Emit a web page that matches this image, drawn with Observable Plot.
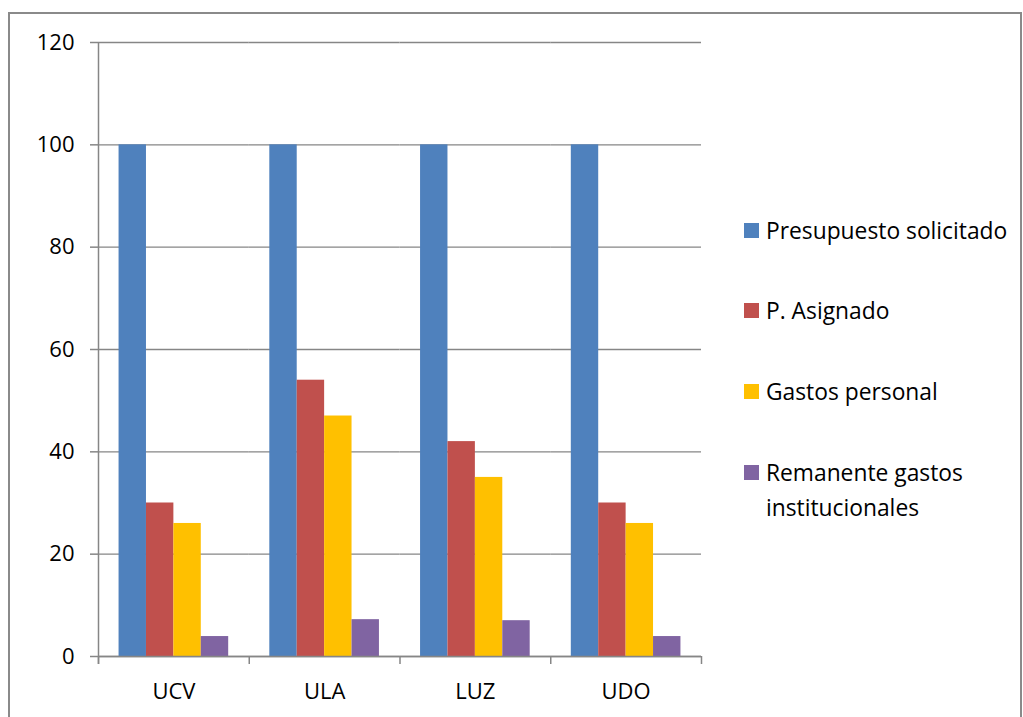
<!DOCTYPE html>
<html>
<head>
<meta charset="utf-8">
<script src="https://cdn.jsdelivr.net/npm/d3@7"></script>
<script src="https://cdn.jsdelivr.net/npm/@observablehq/plot@0.6"></script>
<style>
  html, body { margin: 0; padding: 0; background: #fff; overflow: hidden; }
  #wrap { position: relative; width: 1023px; height: 717px; font-family: "Open Sans", sans-serif; }
  #border { position: absolute; left: 8px; top: 12px; width: 1014px; height: 760px; border: 2px solid #8a8a8a; box-sizing: border-box; pointer-events: none; }
  #chart { position: absolute; left: 0; top: 0; }
  .legend { position: absolute; left: 744px; font-size: 22.8px; color: #000; line-height: 35px; }
  .item { position: absolute; left: 0; white-space: nowrap; display: flex; align-items: flex-start; }
  .sw { width: 15px; height: 15px; margin-top: 10px; margin-right: 7px; flex: none; }
</style>
</head>
<body>
<div id="wrap">
  <div id="chart"></div>
  <div id="border"></div>
  <div class="legend" id="legend"></div>
</div>
<script>
const categories = ["UCV", "ULA", "LUZ", "UDO"];
const series = ["Presupuesto solicitado", "P. Asignado", "Gastos personal", "Remanente gastos institucionales"];
const legendLabels = [["Presupuesto solicitado"], ["P. Asignado"], ["Gastos personal"], ["Remanente gastos", "institucionales"]];
const solicitado = [100, 100, 100, 100];
const asignado = [30, 54, 42, 30];
const gastosPersonal = [26, 47, 35, 26];
const remanente = [3.9, 7.2, 7.0, 3.9];
const colors = ["#4F81BD", "#C0504D", "#FFC000", "#8064A2"];
const yTicks = [0, 20, 40, 60, 80, 100, 120];
const legendCenters = [230, 310, 391, 472];

const seriesValues = [solicitado, asignado, gastosPersonal, remanente];
const data = [];
categories.forEach((c, i) => {
  series.forEach((s, j) => data.push({uni: c, series: s, value: seriesValues[j][i]}));
});

const W = 1023, H = 717, ML = 98, MR = 322, MT = 42, MB = 61;
const bw = (W - ML - MR) / categories.length;
const grid = "#868686";
const lastCat = [categories[categories.length - 1]];
const firstCat = [categories[0]];

const chart = Plot.plot({
  width: W, height: H,
  marginLeft: ML, marginRight: MR, marginTop: MT, marginBottom: MB,
  style: {fontFamily: "Open Sans, sans-serif", fontSize: "22px", color: "#000", background: "transparent"},
  fx: {domain: categories, padding: 0, round: false, label: null},
  x: {domain: series, paddingInner: 0, paddingOuter: 0.75, round: false, axis: null},
  y: {domain: [0, 120], label: null, axis: null},
  color: {domain: series, range: colors},
  marks: [
    Plot.gridY(yTicks, {stroke: grid, strokeOpacity: 1, strokeWidth: 1.3}),
    Plot.barY(data, {fx: "uni", x: "series", y: "value", fill: "series"}),
    Plot.ruleY([0], {stroke: grid, strokeWidth: 1.5}),
    // left axis line
    Plot.ruleX(firstCat, {fx: d => d, x: null, stroke: grid, strokeWidth: 1.5, dx: -bw / 2, insetBottom: -8}),
    // category boundary ticks
    Plot.ruleX(categories, {fx: d => d, x: null, y1: 0, stroke: grid, strokeWidth: 1.5, dx: -bw / 2, insetBottom: -8}),
    Plot.ruleX(lastCat, {fx: d => d, x: null, y1: 0, stroke: grid, strokeWidth: 1.5, dx: bw / 2, insetBottom: -8}),
    Plot.axisY(yTicks, {tickSize: 8, tickPadding: 16, fontSize: 22, stroke: grid, strokeWidth: 1.5, fill: "#000", label: null}),
    Plot.axisFx({anchor: "bottom", tickSize: 0, tickPadding: 27, fontSize: 22, fill: "#000", label: null})
  ]
});
document.getElementById("chart").appendChild(chart);

const legend = document.getElementById("legend");
legendLabels.forEach((lines, i) => {
  const item = document.createElement("div");
  item.className = "item";
  item.style.top = (legendCenters[i] - 17.5) + "px";
  const sw = document.createElement("div");
  sw.className = "sw";
  sw.style.background = colors[i];
  const txt = document.createElement("div");
  txt.innerHTML = lines.join("<br>");
  item.appendChild(sw);
  item.appendChild(txt);
  legend.appendChild(item);
});
</script>
</body>
</html>
